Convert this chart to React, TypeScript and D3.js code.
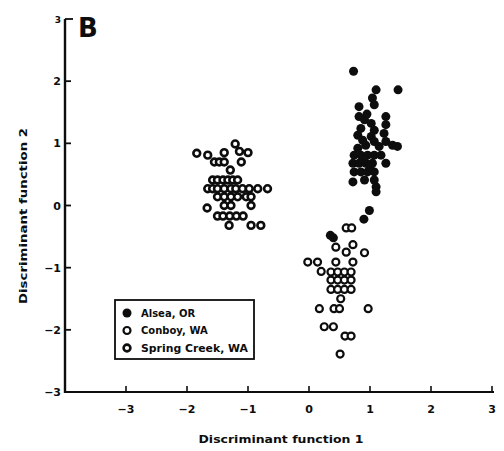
import React from "react";
import * as d3 from "d3";

const xTicks = [-3, -2, -1, 0, 1, 2, 3];
const yTicks = [-3, -2, -1, 0, 1, 2, 3];

const seriesNames = ["Alsea, OR", "Conboy, WA", "Spring Creek, WA"];

// Alsea, OR (filled)
const alsea: [number, number][] = [
  [0.73, 2.16], [1.46, 1.86], [1.1, 1.86], [1.04, 1.73], [1.07, 1.62], [0.82, 1.59],
  [0.82, 1.43], [0.91, 1.38], [1.02, 1.32], [1.26, 1.43], [1.26, 1.3], [0.85, 1.24],
  [1.07, 1.21], [0.8, 1.13], [1.02, 1.11], [1.23, 1.16], [1.26, 1.03], [1.07, 1.03],
  [0.93, 0.97], [1.37, 0.97], [1.45, 0.95], [0.74, 0.81], [0.85, 0.81], [0.96, 0.81],
  [1.07, 0.81], [1.18, 0.81], [1.26, 0.68], [0.72, 0.68], [0.82, 0.68], [0.93, 0.68],
  [1.04, 0.68], [0.74, 0.54], [0.85, 0.54], [0.96, 0.54], [1.07, 0.54], [0.91, 0.41],
  [1.07, 0.41], [0.72, 0.38], [1.1, 0.3], [1.1, 0.22], [0.99, -0.08], [0.9, -0.22],
  [0.8, 0.92], [0.9, 0.75], [1.0, 0.62], [0.95, 1.47], [0.88, 1.05], [1.15, 0.95],
  [0.35, -0.48], [0.4, -0.52],
];

// Conboy, WA (open, lower cluster)
const conboy: [number, number][] = [
  [0.61, -0.36], [0.7, -0.36], [0.44, -0.67], [0.72, -0.63], [0.61, -0.75], [0.91, -0.76],
  [-0.02, -0.91], [0.14, -0.91], [0.2, -1.06], [0.44, -0.91], [0.72, -0.91],
  [0.36, -1.07], [0.47, -1.07], [0.58, -1.07], [0.69, -1.07],
  [0.36, -1.2], [0.47, -1.2], [0.58, -1.2], [0.69, -1.2],
  [0.36, -1.35], [0.47, -1.35], [0.58, -1.35], [0.69, -1.35],
  [0.52, -1.5], [0.17, -1.66], [0.41, -1.66], [0.5, -1.66], [0.97, -1.66],
  [0.25, -1.95], [0.4, -1.95], [0.59, -2.1], [0.69, -2.1], [0.51, -2.39],
];

// Spring Creek, WA (ringed, left cluster)
const springCreek: [number, number][] = [
  [-1.84, 0.84], [-1.66, 0.81], [-1.55, 0.7], [-1.47, 0.7], [-1.39, 0.7], [-1.39, 0.85],
  [-1.21, 0.99], [-1.14, 0.87], [-1.0, 0.85], [-1.11, 0.7], [-1.29, 0.57],
  [-1.58, 0.41], [-1.5, 0.41], [-1.41, 0.41], [-1.33, 0.41], [-1.25, 0.41], [-1.17, 0.41],
  [-1.66, 0.27], [-1.58, 0.27], [-1.5, 0.27], [-1.39, 0.27], [-1.28, 0.27], [-1.2, 0.27],
  [-1.09, 0.27], [-0.98, 0.27], [-0.84, 0.27], [-0.68, 0.27],
  [-1.5, 0.14], [-1.39, 0.14], [-1.28, 0.14], [-1.17, 0.14], [-1.03, 0.14], [-0.95, 0.14],
  [-1.39, 0.0], [-1.28, 0.0], [-0.95, 0.0], [-1.67, -0.04],
  [-1.5, -0.17], [-1.41, -0.17], [-1.3, -0.17], [-1.19, -0.17], [-1.08, -0.17],
  [-1.31, -0.32], [-0.95, -0.32], [-0.79, -0.32],
];

const W = 504;
const H = 451;
const font = "'DejaVu Sans', 'Liberation Sans', sans-serif";
const ink = "#0d0d0d";

export default function App() {
  const x = d3.scaleLinear().domain([-4, 3]).range([65, 492]);
  const y = d3.scaleLinear().domain([-3, 3]).range([392, 19]);

  const filled = (cx: number, cy: number, k: string) => (
    <circle key={k} cx={cx} cy={cy} r={4.5} fill={ink} />
  );
  const open = (cx: number, cy: number, k: string) => (
    <circle key={k} cx={cx} cy={cy} r={3.5} fill="#fff" stroke={ink} strokeWidth={2.2} />
  );
  const ring = (cx: number, cy: number, k: string) => (
    <circle key={k} cx={cx} cy={cy} r={3.4} fill="#fff" stroke={ink} strokeWidth={2.6} />
  );

  const legendItems = [
    { name: seriesNames[0], draw: filled },
    { name: seriesNames[1], draw: open },
    { name: seriesNames[2], draw: ring },
  ];

  const fmt = (t: number) => (t < 0 ? "\u2212" + Math.abs(t) : String(t));

  return (
    <svg width={W} height={H} style={{ position: "absolute", left: 0, top: 0, background: "#fff" }}>
      <rect width={W} height={H} fill="#fff" />
      {/* axes */}
      <line x1={x(-4)} x2={x(3) + 2} y1={y(-3)} y2={y(-3)} stroke={ink} strokeWidth={2.2} />
      <line x1={x(-4)} x2={x(-4)} y1={y(-3) + 1.1} y2={y(3)} stroke={ink} strokeWidth={2.4} />
      {xTicks.map((t) => (
        <g key={"xt" + t}>
          <line x1={x(t)} x2={x(t)} y1={y(-3)} y2={y(-3) - 6} stroke={ink} strokeWidth={1.6} />
          <text x={x(t)} y={y(-3) + 21} textAnchor="middle" fontFamily={font} fontWeight="bold" fontSize={11} fill={ink}>
            {fmt(t)}
          </text>
        </g>
      ))}
      {yTicks.map((t) => (
        <g key={"yt" + t}>
          <line x1={x(-4)} x2={x(-4) + (t === 3 ? 8 : 6)} y1={y(t)} y2={y(t)} stroke={ink} strokeWidth={1.8} />
          <text x={x(-4) - 4} y={y(t) + 4} textAnchor="end" fontFamily={font} fontWeight="bold" fontSize={t === 3 ? 9 : 11} fill={ink}>
            {fmt(t)}
          </text>
        </g>
      ))}
      {/* panel letter */}
      <text x={78} y={37} fontFamily={font} fontWeight="bold" fontSize={26} fill={ink}>B</text>
      {/* axis titles */}
      <text x={281} y={443} textAnchor="middle" fontFamily={font} fontWeight="bold" fontSize={10.5} fill={ink}
        textLength={165} lengthAdjust="spacingAndGlyphs">
        Discriminant function 1
      </text>
      <text
        transform={`translate(27,${216}) rotate(-90)`}
        textAnchor="middle"
        fontFamily={font}
        fontWeight="bold"
        fontSize={10.5}
        fill={ink}
        textLength={176}
        lengthAdjust="spacingAndGlyphs"
      >
        Discriminant function 2
      </text>
      {/* points */}
      {springCreek.map((d, i) => ring(x(d[0]), y(d[1]), "s" + i))}
      {conboy.map((d, i) => open(x(d[0]), y(d[1]), "c" + i))}
      {alsea.map((d, i) => filled(x(d[0]), y(d[1]), "a" + i))}
      {/* legend */}
      <rect x={115} y={300} width={139} height={59} fill="#fff" stroke={ink} strokeWidth={1.8} />
      {legendItems.map((it, i) => (
        <g key={"lg" + i}>
          {it.draw(127, 313 + i * 17.5, "lm" + i)}
          <text x={141} y={313 + i * 17.5 + 3.5} fontFamily={font} fontWeight="bold" fontSize={10} fill={ink}
            textLength={i === 2 ? 107 : undefined} lengthAdjust="spacingAndGlyphs">
            {it.name}
          </text>
        </g>
      ))}
    </svg>
  );
}
